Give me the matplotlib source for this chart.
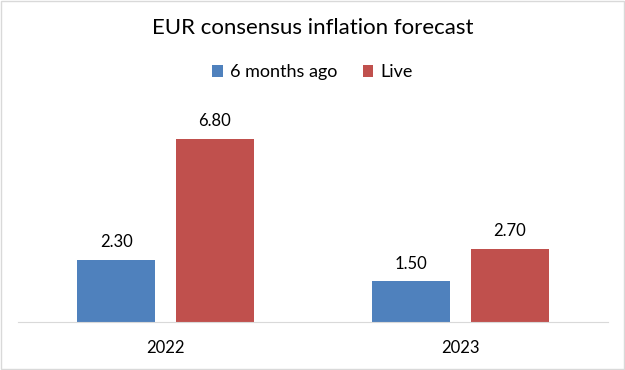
import numpy as np
import matplotlib.pyplot as plt
from matplotlib.patches import Rectangle

# data
years = ["2022", "2023"]
six_months_ago = [2.30, 1.50]
live = [6.80, 2.70]
series_names = ["6 months ago", "Live"]

blue = "#4F81BD"
red = "#C0504D"

plt.rcParams["font.family"] = ["Lato", "DejaVu Sans"]

fig = plt.figure(figsize=(6.25, 3.70), dpi=100)
ax = fig.add_axes([0.0288, 0.1308, 0.944, 0.581])

x = np.arange(len(years))
w = 0.264
off = 0.167
b1 = ax.bar(x - off, six_months_ago, w, color=blue, label=series_names[0])
b2 = ax.bar(x + off, live, w, color=red, label=series_names[1])

ax.bar_label(b1, labels=[f"{v:.2f}" for v in six_months_ago], padding=7, fontsize=12)
ax.bar_label(b2, labels=[f"{v:.2f}" for v in live], padding=7, fontsize=12)

ax.set_xlim(-0.5, 1.5)
ax.set_ylim(0, 8)
ax.set_xticks(x)
ax.set_xticklabels(years, fontsize=12)
ax.tick_params(axis="x", length=0, pad=13)
ax.set_yticks([])
for s in ["left", "right", "top"]:
    ax.spines[s].set_visible(False)
ax.spines["bottom"].set_color("#d9d9d9")

fig.text(0.5, 0.924, "EUR consensus inflation forecast", ha="center", va="center", fontsize=16)
fig.legend(handles=[b1, b2], loc="center", bbox_to_anchor=(0.5, 0.805), ncol=2,
           frameon=False, fontsize=13, handlelength=0.6, handleheight=0.6,
           handletextpad=0.4, columnspacing=1.4)

# light frame round the chart
fig.patches.append(Rectangle((0.001, 0.002), 0.997, 0.995, transform=fig.transFigure,
                             fill=False, edgecolor="#d9d9d9", linewidth=1))

fig.savefig("out.png", dpi=100)
